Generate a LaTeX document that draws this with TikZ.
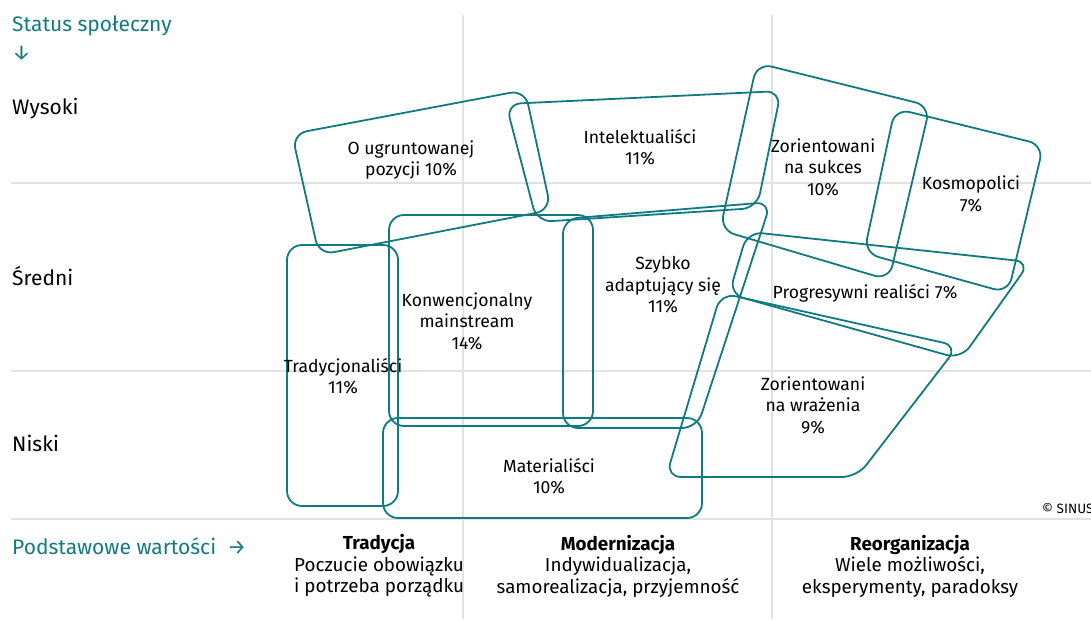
\documentclass[tikz,border=0pt]{standalone}
\usepackage{fontspec}
\setmainfont{Fira Sans}
\definecolor{sinusteal}{RGB}{17,122,128}
\definecolor{gridgray}{RGB}{226,226,226}
\tikzset{
  gridline/.style={draw=gridgray,line width=1.4pt},
  milieu/.style={draw=sinusteal,line width=1.8pt,rounded corners=15pt},
  axislabel/.style={anchor=west,inner sep=0pt,font=\fontsize{21}{25}\selectfont}
}
\begin{document}
\begin{tikzpicture}[x=1pt,y=-1pt]
        \useasboundingbox (0,0) rectangle (1091,619);
        \clip (0,0) rectangle (1091,619);
        % grid
        \draw[gridline] (11,183) -- (1091,183);
        \draw[gridline] (11,371) -- (1091,371);
        \draw[gridline] (11,519) -- (1091,519);
        \draw[gridline] (463,15) -- (463,619);
        \draw[gridline] (772,15) -- (772,619);
        % milieus
        \begin{scope}[every path/.style={milieu}]
            \path (292,134) -- (525,90) -- (551,210) -- (319,255) -- cycle;
            \path (506,104) -- (781,91) -- (757,208) -- (537,222) -- cycle;
            \path (757,63) -- (930,106) -- (889,280) -- (720,230) -- cycle;
            \path (895,108.5) -- (1043.5,145) -- (1008,293) -- (864,253) -- cycle;
            \path (287,245) rectangle (398,506);
            \path (389,215) rectangle (593,426);
            \path (563,219) -- (771,202) -- (697,428) -- (563,428) -- cycle;
            \path (747.5,231.7) -- (1030,262) -- (961,359) -- (729,294) -- cycle;
            \path (721,293) -- (958,346) -- (857,477) -- (666,477) -- cycle;
            \path (383,418) rectangle (702,518);
        \end{scope}
        \begin{scope}[every node/.style={align=center,inner sep=0pt,font=\fontsize{17.6}{21.5}\selectfont}]
            \node (ugr) at (411,160) {O ugruntowanej\\pozycji 10\%};
            \node (int) at (640,147) {Intelektualiści\\11\%};
            \node (suk) at (823,167) {Zorientowani\\na sukces\\10\%};
            \node (kos) at (971,194) {Kosmopolici\\7\%};
            \node (szy) at (663,285) {Szybko\\adaptujący się\\11\%};
            \node (kon) at (467,321) {Konwencjonalny\\mainstream\\14\%};
            \node (pro) at (865,293) {Progresywni realiści 7\%};
            \node (tra) at (343,376) {Tradycjonaliści\\11\%};
            \node (wra) at (813,405) {Zorientowani\\na wrażenia\\9\%};
            \node (mat) at (549,476) {Materialiści\\10\%};
        \end{scope}
        \begin{scope}[every node/.style={align=center,inner sep=0pt,font=\fontsize{18.8}{21.5}\selectfont}]
            \node (trad) at (379,566) {\textbf{Tradycja}\\Poczucie obowiązku\\i potrzeba porządku};
            \node (mod) at (618,566) {\textbf{Modernizacja}\\Indywidualizacja,\\samorealizacja, przyjemność};
            \node (reo) at (910,566) {\textbf{Reorganizacja}\\Wiele możliwości,\\eksperymenty, paradoksy};
        \end{scope}
        % axes
        \node[axislabel,text=sinusteal] (status) at (12,26) {Status społeczny};
        \node[axislabel,text=sinusteal] (down) at (12,53) {↓};
        \node[axislabel] (high) at (12,109) {Wysoki};
        \node[axislabel] (mid) at (12,276) {Średni};
        \node[axislabel] (low) at (12,443) {Niski};
        \node[axislabel,text=sinusteal] (values) at (12,546) {Podstawowe wartości\ \ →};
        \node[anchor=west,inner sep=0pt,font=\fontsize{13.5}{15}\selectfont] (copy) at (1042,509) {© SINUS};
    \end{tikzpicture}
\end{document}
